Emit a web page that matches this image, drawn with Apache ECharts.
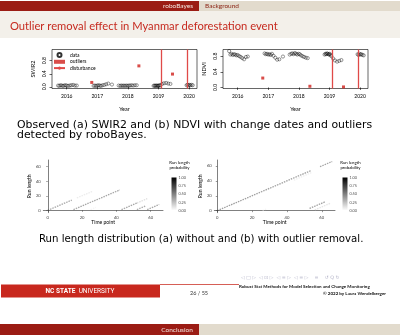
<!DOCTYPE html>
<html>
<head>
<meta charset="utf-8">
<script src="https://cdn.jsdelivr.net/npm/echarts@6.0.0/dist/echarts.min.js"></script>
<style>
  html, body { margin: 0; padding: 0; background: #fff; }
  #chart { width: 400px; height: 336px; }
</style>
</head>
<body>
<div id="chart"></div>
<script>
// observation dates (decimal year) and the two indices
const obsYear = [
  2015.72, 2015.76, 2015.80, 2015.84, 2015.88, 2015.92, 2015.96, 2016.00, 2016.05, 2016.10, 2016.15, 2016.21, 2016.27, 2016.33,
  2016.88, 2016.92, 2016.96, 2017.00, 2017.04, 2017.08, 2017.12, 2017.17, 2017.23, 2017.29, 2017.36, 2017.48,
  2017.70, 2017.75, 2017.79, 2017.83, 2017.87, 2017.91, 2017.95, 2017.99, 2018.03, 2018.07, 2018.12, 2018.17, 2018.23, 2018.29,
  2018.84, 2018.87, 2018.89, 2018.92, 2018.94, 2018.97, 2018.99, 2019.01, 2019.04, 2019.06,
  2019.12, 2019.18, 2019.25, 2019.32, 2019.39,
  2019.92, 2019.95, 2019.98, 2020.01, 2020.04, 2020.08, 2020.12
];
const swir2 = [
  0.04, 0.03, 0.05, 0.04, 0.03, 0.04, 0.05, 0.04, 0.03, 0.04, 0.05, 0.06, 0.04, 0.04,
  0.03, 0.04, 0.03, 0.04, 0.05, 0.04, 0.03, 0.05, 0.06, 0.08, 0.10, 0.07,
  0.04, 0.03, 0.04, 0.03, 0.04, 0.03, 0.04, 0.03, 0.04, 0.04, 0.05, 0.04, 0.05, 0.05,
  0.03, 0.04, 0.03, 0.04, 0.03, 0.04, 0.03, 0.04, 0.04, 0.05,
  0.09, 0.11, 0.12, 0.10, 0.09,
  0.05, 0.06, 0.05, 0.06, 0.05, 0.06, 0.05
];
const ndvi = [
  0.93, 0.84, 0.86, 0.83, 0.85, 0.84, 0.82, 0.83, 0.80, 0.78, 0.75, 0.72, 0.78, 0.79,
  0.87, 0.85, 0.86, 0.84, 0.85, 0.83, 0.86, 0.81, 0.76, 0.71, 0.72, 0.79,
  0.84, 0.86, 0.87, 0.85, 0.88, 0.86, 0.84, 0.86, 0.85, 0.82, 0.80, 0.78, 0.76, 0.75,
  0.84, 0.86, 0.85, 0.87, 0.86, 0.85, 0.84, 0.86, 0.83, 0.80,
  0.74, 0.69, 0.66, 0.68, 0.70,
  0.85, 0.83, 0.86, 0.84, 0.85, 0.83, 0.82
];
const outlierYear = [2016.82, 2018.36, 2019.46];
const outlierSwir2 = [0.135, 0.64, 0.39];
const outlierNdvi = [0.24, 0.03, 0.013];
const disturbanceYear = [2019.08, 2019.95];

const yearTicks = [2016, 2017, 2018, 2019, 2020];
const valueTicks = [0, 0.4, 0.8];
const timeTicks = [0, 20, 40, 60];
const runTicks = [0, 20, 40, 60];
const probLabels = ['1.00', '0.75', '0.50', '0.25', '0.00'];

// run length segments: [t start, run length start, t end, run length end, probability]
const runLenWithout = [
  [0, 0, 14, 14, 0.68], [17, 17, 26, 26, 0.15], [15, 1, 42, 28, 0.7], [25, 1, 28, 4, 0.08],
  [43, 1, 52, 10, 0.7], [52, 10, 58, 16, 0.25], [52, 1, 57, 6, 0.65], [58, 1, 65, 8, 0.7]
];
const runLenWith = [
  [0, 0, 54, 54, 0.75], [59, 59, 66, 66, 0.7], [44, 41, 54, 51, 0.12],
  [53, 3, 62, 12, 0.75], [56, 1, 65, 10, 0.2], [26, 0, 28, 2, 0.08]
];

const FONT = 'Lato, "DejaVu Sans", sans-serif';
const BODY = '"DejaVu Sans", sans-serif';
const zip = (xs, ys) => xs.map((x, i) => [x, ys[i]]);
const gray = p => { const v = Math.round(255 * (1 - p)); return 'rgb(' + v + ',' + v + ',' + v + ')'; };
const RED = '#e04a48';

function topGrid(left) {
  return { left: left, top: 49.5, width: 145, height: 39, show: true, borderColor: '#000', borderWidth: 0.6 };
}
function yearAxis(gi) {
  return {
    type: 'value', gridIndex: gi, min: 2015.52, max: 2020.26,
    name: 'Year', nameLocation: 'middle', nameGap: 17.5,
    nameTextStyle: { fontSize: 5.5, color: '#000', fontFamily: FONT },
    axisLine: { show: false }, splitLine: { show: false },
    axisTick: { show: true, customValues: yearTicks, length: 2.5, lineStyle: { color: '#000', width: 0.6 } },
    axisLabel: { customValues: yearTicks, fontSize: 5, color: '#000', margin: 5.5, fontFamily: FONT,
      hideOverlap: false, formatter: v => String(v) }
  };
}
function valueAxis(gi, name, min, max) {
  return {
    type: 'value', gridIndex: gi, min: min, max: max,
    name: name, nameLocation: 'middle', nameGap: 16,
    nameTextStyle: { fontSize: 5.5, color: '#000', fontFamily: FONT },
    axisLine: { show: false }, splitLine: { show: false },
    axisTick: { show: true, customValues: valueTicks, length: 2.5, lineStyle: { color: '#000', width: 0.6 } },
    axisLabel: { customValues: valueTicks, rotate: 90, fontSize: 5, color: '#000', margin: 5, fontFamily: FONT,
      hideOverlap: false, formatter: v => v.toFixed(1) }
  };
}
function timeAxis(gi, min, max) {
  return {
    type: 'value', gridIndex: gi, min: min, max: max,
    name: 'Time point', nameLocation: 'middle', nameGap: 6,
    nameTextStyle: { fontSize: 5, color: '#000', fontFamily: FONT },
    axisLine: { show: true, lineStyle: { color: '#000', width: 0.5 } }, splitLine: { show: false },
    axisTick: { show: true, customValues: timeTicks, length: 1.5, lineStyle: { color: '#333', width: 0.5 } },
    axisLabel: { customValues: timeTicks, fontSize: 4.2, color: '#444', margin: 2.5, fontFamily: FONT,
      hideOverlap: false, showMinLabel: true, showMaxLabel: true }
  };
}
function runAxis(gi, min, max) {
  return {
    type: 'value', gridIndex: gi, min: min, max: max,
    name: 'Run length', nameLocation: 'middle', nameGap: 8,
    nameTextStyle: { fontSize: 5, color: '#000', fontFamily: FONT },
    axisLine: { show: true, lineStyle: { color: '#000', width: 0.5 } }, splitLine: { show: false },
    axisTick: { show: true, customValues: runTicks, length: 1.5, lineStyle: { color: '#333', width: 0.5 } },
    axisLabel: { customValues: runTicks, fontSize: 4.2, color: '#444', margin: 2.5, fontFamily: FONT,
      hideOverlap: false, showMinLabel: true, showMaxLabel: true }
  };
}
function obsSeries(gi, vals, outVals) {
  return [
    { type: 'scatter', name: 'data', xAxisIndex: gi, yAxisIndex: gi, data: zip(obsYear, vals),
      symbol: 'circle', symbolSize: 3.2,
      itemStyle: { color: 'rgba(0,0,0,0)', borderColor: '#000', borderWidth: 0.5 } },
    { type: 'scatter', name: 'outliers', xAxisIndex: gi, yAxisIndex: gi, data: zip(outlierYear, outVals),
      symbol: 'rect', symbolSize: 3, itemStyle: { color: '#d0201c' } },
    { type: 'line', name: 'disturbance', xAxisIndex: gi, yAxisIndex: gi, data: [], symbol: 'none',
      color: RED, lineStyle: { color: RED, width: 1.2 },
      markLine: { silent: true, symbol: ['none', 'none'], label: { show: false },
        lineStyle: { color: RED, width: 1.3, type: 'solid' },
        data: disturbanceYear.map(v => ({ xAxis: v })) } }
  ];
}
function runSeries(gi, segs) {
  return {
    type: 'lines', coordinateSystem: 'cartesian2d', xAxisIndex: gi, yAxisIndex: gi, silent: true,
    lineStyle: { width: 1.3, type: [1.5, 1] },
    data: segs.map(s => ({ coords: [[s[0], s[1]], [s[2], s[3]]], lineStyle: { color: gray(s[4]) } }))
  };
}

function txt(x, y, text, size, fill, extra) {
  return { type: 'text', x: x, y: y, silent: true,
    style: Object.assign({ text: text, fontSize: size, fill: fill, fontFamily: FONT, align: 'left', verticalAlign: 'middle' }, extra || {}) };
}
function rect(x, y, w, h, fill) {
  return { type: 'rect', silent: true, shape: { x: x, y: y, width: w, height: h }, style: { fill: fill } };
}
const barFill = { type: 'linear', x: 0, y: 0, x2: 0, y2: 1,
  colorStops: [{ offset: 0, color: '#000' }, { offset: 1, color: '#fff' }] };

function colorbar(x) {
  const els = [
    rect(x, 177.5, 5, 33, barFill),
    txt(x + 8, 163, 'Run length', 4.3, '#000', { align: 'center' }),
    txt(x + 8, 167.5, 'probability', 4.3, '#000', { align: 'center' })
  ];
  probLabels.forEach((l, i) => els.push(txt(x + 7, 177.7 + i * 8.25, l, 3.8, '#4d4d4d')));
  return els;
}

const graphics = [
  rect(0, 1, 199, 10, '#9b1c14'),
  rect(199, 1, 201, 10, '#e2dbcd'),
  rect(0, 11, 400, 27, '#f3f0ea'),
  txt(193, 6, 'roboBayes', 6.5, '#f3e6e0', { align: 'right' }),
  txt(205, 6, 'Background', 6.5, '#8b2516'),
  txt(10, 26.7, 'Outlier removal effect in Myanmar deforestation event', 11.2, '#c62a1f'),
  txt(17, 125.3, 'Observed (a) SWIR2 and (b) NDVI with change dates and outliers', 10.9, '#000', { fontFamily: BODY }),
  txt(17, 135.3, 'detected by roboBayes.', 10.9, '#000', { fontFamily: BODY }),
  txt(39, 239.6, 'Run length distribution (a) without and (b) with outlier removal.', 10.2, '#000', { fontFamily: BODY }),
  rect(1, 284.5, 159, 13, '#c8281e'),
  rect(160, 284.2, 79, 0.8, '#c8281e'),
  { type: 'text', x: 80, y: 291.2, silent: true,
    style: { text: '{b|NC STATE} {n|UNIVERSITY}', align: 'center', verticalAlign: 'middle',
      rich: { b: { fontSize: 6.5, fontWeight: 'bold', fill: '#fff', fontFamily: 'Roboto' },
              n: { fontSize: 6.5, fill: '#fff', fontFamily: 'Roboto' } } } },
  txt(199, 293.5, '26 / 55', 5.5, '#333', { align: 'center' }),
  txt(241, 277.3, '◁ □ ▷  ◁ ⊡ ▷  ◁ ≡ ▷  ◁ ≡ ▷    ≡    ↺ Q ↻', 4.8, '#b4b4c8', { fontFamily: '"DejaVu Sans"' }),
  txt(239, 286.5, 'Robust Stat Methods for Model Selection and Change Monitoring', 4.5, '#111', { fontWeight: 'bold' }),
  txt(386, 293.7, '© 2022 by Laura Wendelberger', 4.5, '#111', { fontWeight: 'bold', align: 'right' }),
  rect(0, 324, 199, 11, '#9b1c14'),
  rect(199, 324, 201, 11, '#e2dbcd'),
  txt(177, 329.5, 'Conclusion', 6.5, '#f3e6e0', { align: 'center' })
].concat(colorbar(171.5), colorbar(342.5));

const chart = echarts.init(document.getElementById('chart'));
chart.setOption({
  backgroundColor: '#fff',
  animation: false,
  textStyle: { fontFamily: FONT },
  grid: [
    topGrid(52), topGrid(223),
    { left: 43.3, top: 160, width: 119.7, height: 52.7 },
    { left: 214.3, top: 160, width: 120.7, height: 52.7 }
  ],
  xAxis: [yearAxis(0), yearAxis(1), timeAxis(2, -2.6, 67.2), timeAxis(3, -1.7, 67.6)],
  yAxis: [
    valueAxis(0, 'SWIR2', -0.05, 1.14),
    valueAxis(1, 'NDVI', -0.027, 0.97),
    runAxis(2, -3.3, 69.2),
    runAxis(3, -2.7, 68)
  ],
  legend: {
    data: ['data', 'outliers', 'disturbance'], left: 53, top: 52, orient: 'vertical',
    itemWidth: 11, itemHeight: 4, itemGap: 1.3, padding: 0, selectedMode: false,
    textStyle: { fontSize: 5, color: '#000', fontFamily: FONT }
  },
  series: [].concat(
    obsSeries(0, swir2, outlierSwir2),
    obsSeries(1, ndvi, outlierNdvi),
    [runSeries(2, runLenWithout), runSeries(3, runLenWith)]
  ),
  graphic: graphics
});
</script>
</body>
</html>
